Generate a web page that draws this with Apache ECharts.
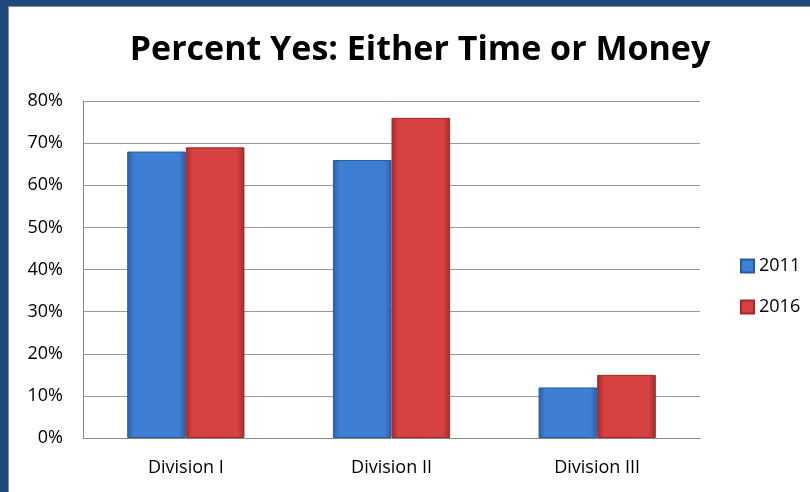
<!DOCTYPE html>
<html><head><meta charset="utf-8">
<script src="https://cdn.jsdelivr.net/npm/echarts@6/dist/echarts.min.js"></script>
<style>html,body{margin:0;padding:0;background:#fff}#c{width:810px;height:492px}</style>
</head><body><div id="c"></div>
<script>
const categories = ['Division I', 'Division II', 'Division III'];
const seriesNames = ['2011', '2016'];
const values2011 = [68, 66, 12];
const values2016 = [69, 76, 15];
const yTicks = [0, 10, 20, 30, 40, 50, 60, 70, 80];

function grad(edge, mid) {
  return new echarts.graphic.LinearGradient(0, 0, 1, 0, [
    {offset: 0, color: edge}, {offset: 0.12, color: mid}, {offset: 0.88, color: mid}, {offset: 1, color: edge}
  ]);
}
const chart = echarts.init(document.getElementById('c'));
const font = '"Open Sans", "Noto Sans", sans-serif';
chart.setOption({
  animation: false,
  backgroundColor: '#fff',
  graphic: [
    {type: 'rect', shape: {x: 0, y: 0, width: 810, height: 6}, style: {fill: '#1F497D'}},
    {type: 'rect', shape: {x: 0, y: 0, width: 8, height: 492}, style: {fill: '#1F497D'}},
    {type: 'rect', shape: {x: 8, y: 6, width: 802, height: 1}, style: {fill: '#8c8c8c'}},
    {type: 'rect', shape: {x: 8, y: 6, width: 1, height: 486}, style: {fill: '#8c8c8c'}}
  ],
  title: {
    text: 'Percent Yes: Either Time or Money', left: 415, top: 28, textAlign: 'center',
    textStyle: {fontFamily: font, fontWeight: 'bold', fontSize: 34, color: '#000'}
  },
  legend: {
    orient: 'vertical', left: 735, top: 251, itemWidth: 13, itemHeight: 13, itemGap: 21, itemTextGap: 6,
    icon: 'rect',
    textStyle: {fontFamily: font, fontSize: 18, lineHeight: 20, color: '#000'},
    data: seriesNames
  },
  grid: {left: 83, right: 110, top: 101, bottom: 54},
  xAxis: {
    type: 'category', data: categories,
    axisLine: {lineStyle: {color: '#888'}}, axisTick: {show: false},
    axisLabel: {fontFamily: font, fontSize: 18, color: '#000', margin: 21}
  },
  yAxis: {
    type: 'value', min: 0, max: 80, interval: 10,
    axisLine: {show: true, lineStyle: {color: '#888'}}, axisTick: {show: false},
    splitLine: {lineStyle: {color: '#999', width: 1}},
    axisLabel: {fontFamily: font, fontSize: 18, color: '#000', margin: 20,
      formatter: v => yTicks.includes(v) ? v + '%' : ''}
  },
  series: [
    {name: seriesNames[0], type: 'bar', data: values2011, barGap: '0%', barCategoryGap: '43%',
      itemStyle: {color: grad('#2D5FA6', '#3F7FD3'), borderColor: '#2B5A9C', borderWidth: 1}},
    {name: seriesNames[1], type: 'bar', data: values2016,
      itemStyle: {color: grad('#A62A2A', '#D64242'), borderColor: '#9E2A2A', borderWidth: 1}}
  ]
});
</script></body></html>
